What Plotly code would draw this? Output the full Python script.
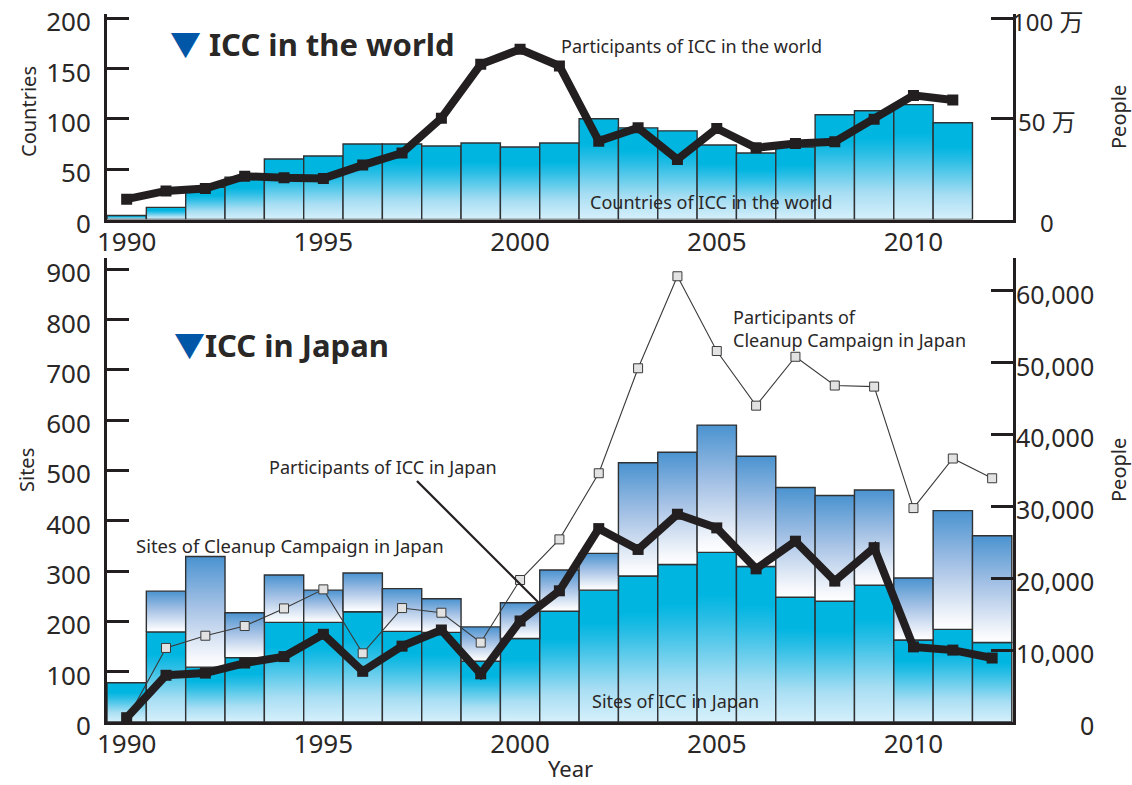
import plotly.graph_objects as go

# ---------------- data ----------------
years_world = list(range(1990, 2012))
countries_world = [4, 12, 32, 42, 60, 63, 75, 75, 73, 76, 72, 76,
                   100, 91, 88, 74, 66, 72, 104, 108, 114, 96]
participants_world = [101000, 142000, 154000, 215000, 207000, 204000, 270000, 330000,
                      503000, 770000, 845000, 762000, 389000, 455000, 298000, 452000,
                      356000, 377000, 386000, 497000, 616000, 593000]

years_japan = list(range(1990, 2013))
sites_icc_japan = [78, 179, 109, 128, 198, 198, 219, 180, 178, 121, 166, 220,
                   262, 290, 313, 337, 309, 248, 240, 272, 163, 184, 158]
sites_cleanup_japan = [None, 260, 329, 217, 292, 262, 296, 265, 245, 189, 237, 302,
                       335, 515, 536, 590, 528, 466, 450, 461, 286, 420, 370]
participants_icc_japan = [600, 6500, 6800, 8200, 9100, 12200, 7050, 10550, 12800, 6700,
                          14050, 18250, 26900, 24000, 28900, 27000, 21300, 25150, 19600,
                          24250, 10450, 10000, 8900]
participants_cleanup_japan = [300, 10300, 12000, 13350, 15800, 18450, 9550, 15850, 15200,
                              11050, 19750, 25400, 34600, 49200, 62000, 51600, 44000, 50800,
                              46800, 46650, 29750, 36650, 33900]

year_ticks = [1990, 1995, 2000, 2005, 2010]
world_left_ticks = [0, 50, 100, 150, 200]
world_right_ticks = [0, 500000, 1000000]
world_right_labels = ["0", "50 万", "100 万"]
japan_left_ticks = [0, 100, 200, 300, 400, 500, 600, 700, 800, 900]
japan_right_ticks = [0, 10000, 20000, 30000, 40000, 50000, 60000]
japan_right_labels = ["0", "10,000", "20,000", "30,000", "40,000", "50,000", "60,000"]

# ---------------- style ----------------
FONT = "Noto Sans, Noto Sans CJK JP, sans-serif"
TEXT = "#2a2727"
AXIS = "#231F20"
EDGE = "#2f3133"
CYAN_SCALE = [[0, "#D6F0FB"], [0.25, "#A8DEF3"], [0.62, "#27BDE5"],
              [0.75, "#00B6E1"], [1, "#00B6E1"]]
BLUE_SCALE = [[0, "#FFFFFF"], [0.1, "#F3F6FB"], [0.55, "#A4C1E5"], [1, "#4A93D0"]]

X_RANGE = [1989.5, 2012.53]
WORLD_MAX = 204
PEOPLE_PER_COUNTRY = 5000
JAPAN_MAX = 922
PEOPLE_PER_SITE = 70

# plot area in pixels
L, R, T, B = 107, 119, 14, 63
W, H = 1132, 785
PW, PH = W - L - R, H - T - B


def px(xp):
    return (xp - L) / PW


def py(yp):
    return (H - B - yp) / PH


fig = go.Figure()


def bar(xc, bottom, top, scale, xa, ya):
    x0, x1 = xc - 0.5, xc + 0.5
    fig.add_trace(go.Scatter(
        x=[x0, x0, x1, x1, x0], y=[bottom, top, top, bottom, bottom],
        mode="lines", fill="toself",
        fillgradient=dict(type="vertical", colorscale=scale, start=bottom, stop=top),
        line=dict(color=EDGE, width=1.4),
        xaxis=xa, yaxis=ya, hoverinfo="skip", showlegend=False))


# top chart bars
for yr, v in zip(years_world, countries_world):
    bar(yr, 0, v, CYAN_SCALE, "x", "y")

# bottom chart bars
for yr, v in zip(years_japan, sites_icc_japan):
    bar(yr, 0, v, CYAN_SCALE, "x2", "y3")
for yr, base, v in zip(years_japan, sites_icc_japan, sites_cleanup_japan):
    if v is not None:
        bar(yr, base, v, BLUE_SCALE, "x2", "y3")

# lines
fig.add_trace(go.Scatter(
    x=years_world, y=participants_world, mode="lines+markers",
    line=dict(color=AXIS, width=8),
    marker=dict(symbol="square", size=11, color=AXIS),
    xaxis="x", yaxis="y2", hoverinfo="skip", showlegend=False))

fig.add_trace(go.Scatter(
    x=years_japan, y=participants_cleanup_japan, mode="lines+markers",
    line=dict(color="#3a3a3a", width=1.1),
    marker=dict(symbol="square", size=9, color="#E2E2E2", line=dict(color="#3a3a3a", width=1)),
    xaxis="x2", yaxis="y4", hoverinfo="skip", showlegend=False))

fig.add_trace(go.Scatter(
    x=years_japan, y=participants_icc_japan, mode="lines+markers",
    line=dict(color=AXIS, width=8),
    marker=dict(symbol="square", size=11, color=AXIS),
    xaxis="x2", yaxis="y4", hoverinfo="skip", showlegend=False))

# ---------------- axes ----------------
top_dom = [py(219.5), 1.0]
bot_dom = [0.0, py(258)]

xcommon = dict(range=X_RANGE, tickvals=year_ticks, ticks="", showgrid=False,
               zeroline=False, showline=True, linewidth=3, linecolor=AXIS,
               tickfont=dict(size=26, color=TEXT), ticklabelstandoff=-3,
               automargin=False, ticklabeloverflow="allow")
ycommon = dict(showgrid=False, zeroline=False, showline=True, linewidth=3,
               linecolor=AXIS, ticks="inside", ticklen=22, tickwidth=3,
               tickcolor=AXIS, tickfont=dict(size=26, color=TEXT), automargin=False,
               ticklabeloverflow="allow")

fig.update_layout(
    width=W, height=H,
    margin=dict(l=L, r=R, t=T, b=B, autoexpand=False),
    paper_bgcolor="white", plot_bgcolor="rgba(0,0,0,0)",
    showlegend=False,
    font=dict(family=FONT, color=TEXT),
    xaxis=dict(**xcommon, domain=[0, 1], anchor="y"),
    yaxis=dict(**ycommon, domain=top_dom, anchor="x", range=[0, WORLD_MAX],
               tickvals=world_left_ticks, ticklabelstandoff=8, ticklabelshift=4),
    yaxis2=dict(**ycommon, overlaying="y", side="right", anchor="x",
                range=[0, WORLD_MAX * PEOPLE_PER_COUNTRY],
                tickvals=world_right_ticks, showticklabels=False),
    xaxis2=dict(**xcommon, domain=[0, 1], anchor="y3"),
    yaxis3=dict(**ycommon, domain=bot_dom, anchor="x2", range=[0, JAPAN_MAX],
                tickvals=japan_left_ticks, ticklabelstandoff=8, ticklabelshift=4),
    yaxis4=dict(**ycommon, overlaying="y3", side="right", anchor="x2",
                range=[0, JAPAN_MAX * PEOPLE_PER_SITE],
                tickvals=japan_right_ticks, showticklabels=False),
)

ann = []
# right-axis tick labels
for v, t in zip(world_right_ticks, world_right_labels):
    ann.append(dict(text=t, x=px(1047), xref="paper", y=v, yref="y2", xanchor="center",
                    yanchor="middle", yshift=-3, showarrow=False,
                    font=dict(size=24, color=TEXT)))
for v, t in zip(japan_right_ticks, japan_right_labels):
    ann.append(dict(text=t, x=px(1096), xref="paper", y=v, yref="y4", xanchor="right",
                    yanchor="middle", yshift=-3, showarrow=False,
                    font=dict(size=25, color=TEXT)))


def txt(text, x, y, size, xanchor="left", angle=0, bold=False):
    ann.append(dict(text=text, x=px(x), y=py(y), xref="paper", yref="paper",
                    xanchor=xanchor, yanchor="middle", textangle=angle, showarrow=False,
                    align="left",
                    font=dict(size=size, color=TEXT, family=FONT,
                              weight="bold" if bold else "normal")))


# axis titles
txt("Countries", 28, 112, 20, "center", -90)
txt("People", 1118, 117, 20, "center", -90)
txt("Sites", 26, 470, 20, "center", -90)
txt("People", 1118, 470, 20, "center", -90)
txt("Year", 570, 768, 22, "center")

# titles
txt("<span style='color:#0057A8'>▼</span> ICC in the world", 168, 44, 31, bold=True)
txt("<span style='color:#0057A8'>▼</span>ICC in Japan", 172, 345, 31, bold=True)

# series labels
txt("Participants of ICC in the world", 559, 46, 18)
txt("Countries of ICC in the world", 588, 202, 18)
txt("Participants of ICC in Japan", 267, 467, 18)
txt("Participants of<br>Cleanup Campaign in Japan", 731, 328.5, 18)
txt("Sites of Cleanup Campaign in Japan", 134, 545, 18.5)
txt("Sites of ICC in Japan", 590, 701, 18)

fig.update_layout(annotations=ann)

# leader line for "Participants of ICC in Japan"
fig.add_shape(type="line", xref="paper", yref="paper",
              x0=px(417), y0=py(481), x1=px(539), y1=py(603),
              line=dict(color=AXIS, width=2.2))

fig.write_html("out.html")
